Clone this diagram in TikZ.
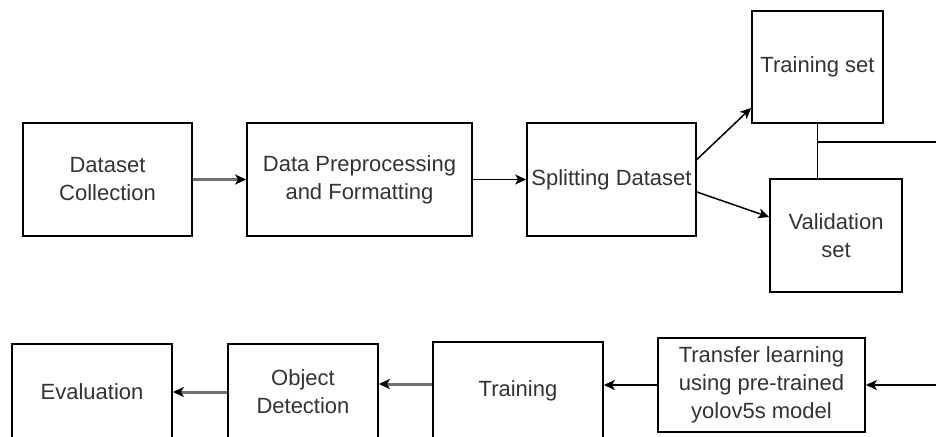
\documentclass[tikz,border=0pt]{standalone}
\usepackage{fontspec}
\setmainfont{Liberation Sans}
\usetikzlibrary{arrows.meta}
\definecolor{txt}{HTML}{333333}
\definecolor{garrow}{HTML}{707070}
\tikzset{
  box/.style={draw=black, line width=1.8pt, fill=white, align=center, text=txt,
    font=\fontsize{22}{28}\selectfont, inner sep=0pt},
  blk/.style={draw=black, line width=1.5pt, -{Stealth[length=11pt,width=10pt,inset=3pt]}},
  gry/.style={draw=garrow, line width=3pt, -{Stealth[length=11pt,width=10pt,inset=3pt,color=black]}},
  plain/.style={draw=black, line width=1.5pt}
}
\begin{document}
\begin{tikzpicture}[x=1pt,y=-1pt]
\useasboundingbox (0,0) rectangle (936,436);
\clip (0,0) rectangle (936,436);
\fill[white] (0,0) rectangle (936,436);
% top row
\node[box, minimum width=169pt, minimum height=113pt] (dc) at (107.5,179.5) {Dataset\\Collection};
\node[box, minimum width=225pt, minimum height=113pt] (dp) at (359.5,179.5) {Data Preprocessing\\and Formatting};
\node[box, minimum width=169pt, minimum height=113pt] (sd) at (611.5,179.5) {Splitting Dataset};
\node[box, minimum width=131pt, minimum height=112pt] (ts) at (817.5,67) {Training set};
\node[box, minimum width=132pt, minimum height=113pt] (vs) at (836,235.5) {Validation\\set};
% bottom row
\node[box, minimum width=207pt, minimum height=94pt] (tl) at (761.5,385) {Transfer learning\\using pre-trained\\yolov5s model};
\node[box, minimum width=170pt, minimum height=98pt] (tr) at (518,391) {Training};
\node[box, minimum width=150pt, minimum height=96pt] (od) at (303,392) {Object\\Detection};
\node[box, minimum width=160pt, minimum height=96pt] (ev) at (92,392) {Evaluation};
% coordinates
\coordinate (j) at (817.5,142);
\coordinate (r1) at (936,142);
\coordinate (r2) at (936,385);
% connectors
\draw[gry] (dc.east) -- (dp.west);
\draw[blk] (dp.east) -- (sd.west);
\draw[blk] ([yshift=20pt]sd.east) -- ([yshift=16pt]ts.south west);
\draw[blk] ([yshift=-12.5pt]sd.east) -- ([yshift=18.5pt]vs.west);
\draw[plain] (ts.south) -- (ts.south |- vs.north);
\draw[plain] (j) -- (r1);
\draw[blk] (r2) -- (tl.east);
\draw[blk] (tl.west) -- (tl.west -| tr.east);
\draw[gry] ([yshift=7pt]tr.west) -- ([yshift=7pt]tr.west -| od.east);
\draw[gry] (od.west) -- (od.west -| ev.east);
\end{tikzpicture}
\end{document}
